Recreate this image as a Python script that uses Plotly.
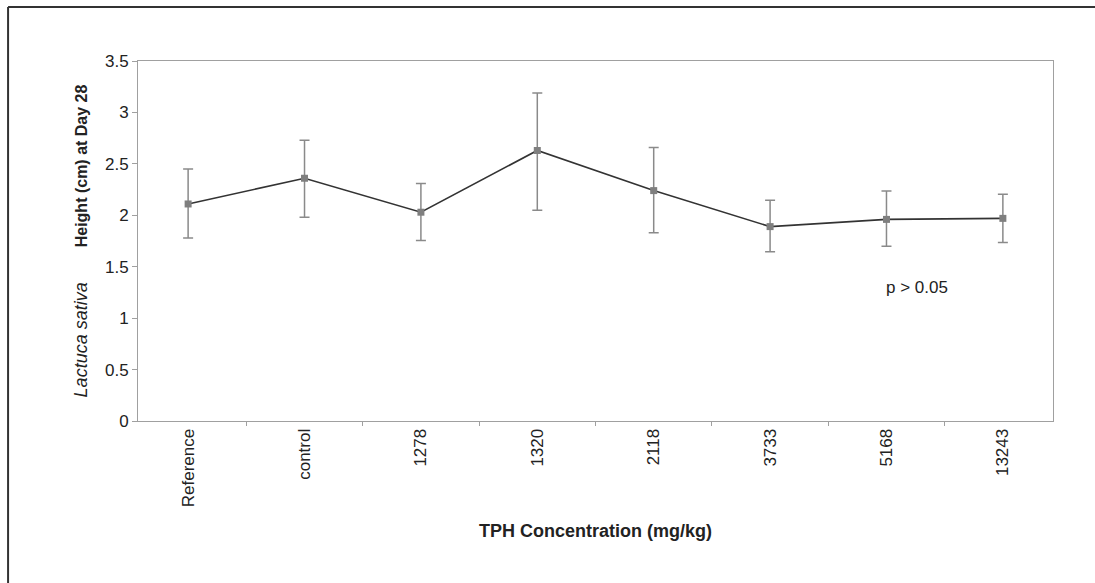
import plotly.graph_objects as go

categories = ["Reference", "control", "1278", "1320", "2118", "3733", "5168", "13243"]
mean_height = [2.11, 2.36, 2.03, 2.63, 2.24, 1.89, 1.96, 1.97]
err_upper = [0.34, 0.37, 0.28, 0.56, 0.42, 0.255, 0.275, 0.235]
err_lower = [0.33, 0.38, 0.275, 0.58, 0.41, 0.245, 0.26, 0.235]
y_ticks = [0, 0.5, 1, 1.5, 2, 2.5, 3, 3.5]
y_tick_labels = ["0", "0.5", "1", "1.5", "2", "2.5", "3", "3.5"]

fig = go.Figure()
fig.add_trace(go.Scatter(
    x=categories, y=mean_height, mode="lines+markers",
    line=dict(color="#333333", width=1.6),
    marker=dict(symbol="square", size=7, color="#7f7f7f"),
    error_y=dict(type="data", symmetric=False, array=err_upper, arrayminus=err_lower,
                 color="#8a8a8a", thickness=1.5, width=5),
    showlegend=False,
))

axis_color = "#a0a0a0"
y_title = ("<i>Lactuca sativa</i>" + "&nbsp;" * 7 +
           "<span style='font-size:16px'><b>Height (cm) at Day 28</b></span>")
fig.update_layout(
    width=1095, height=583,
    margin=dict(l=138, r=42, t=61, b=162),
    paper_bgcolor="white", plot_bgcolor="white",
    font=dict(family="Arial, Liberation Sans, sans-serif", size=17, color="#222222"),
    xaxis=dict(
        type="category", tickangle=-90, tickson="boundaries",
        ticks="outside", ticklen=4, tickcolor=axis_color,
        showline=True, linecolor=axis_color, linewidth=1, mirror=True,
        showgrid=False, zeroline=False,
        tickfont=dict(size=17),
        title=dict(text="<b>TPH Concentration (mg/kg)</b>", font=dict(size=18), standoff=18),
    ),
    yaxis=dict(
        range=[0, 3.5], tickvals=y_ticks, ticktext=y_tick_labels,
        ticks="outside", ticklen=5, tickcolor=axis_color,
        showline=True, linecolor=axis_color, linewidth=1, mirror=True,
        showgrid=False, zeroline=False,
        tickfont=dict(size=17),
        title=dict(text=y_title, font=dict(size=18), standoff=12),
    ),
    annotations=[dict(
        text="p > 0.05", xref="paper", yref="paper", x=0.851, y=0.37,
        xanchor="center", yanchor="middle",
        showarrow=False, font=dict(size=17, color="#222222"),
    )],
    shapes=[
        dict(type="line", xref="paper", yref="paper", x0=-0.142, x1=1.1, y0=1.15, y1=1.15,
             line=dict(color="#333333", width=2)),
        dict(type="line", xref="paper", yref="paper", x0=-0.142, x1=-0.142, y0=-0.45, y1=1.15,
             line=dict(color="#333333", width=2)),
    ],
)

fig.write_html("out.html")
